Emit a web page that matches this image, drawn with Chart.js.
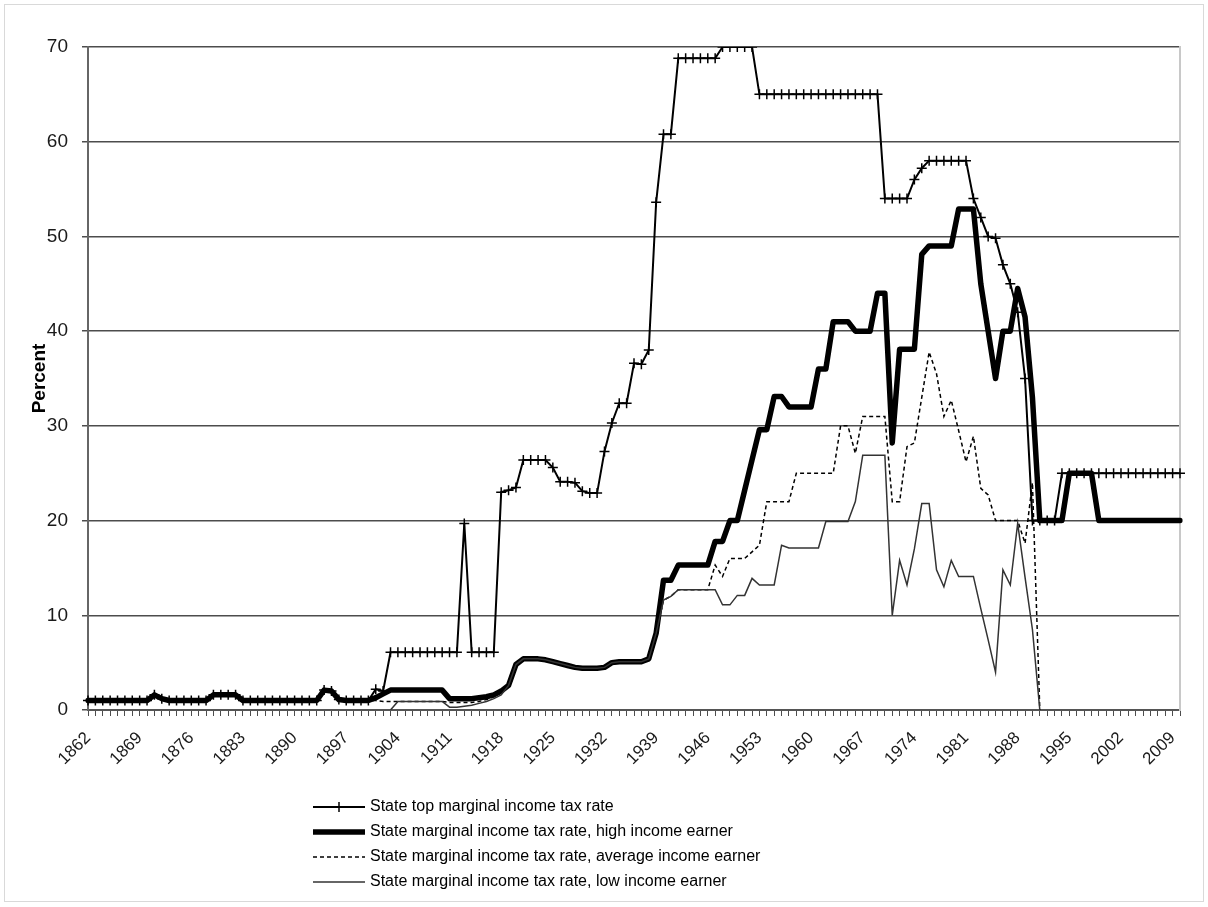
<!DOCTYPE html>
<html>
<head>
<meta charset="utf-8">
<title>State marginal income tax rates</title>
<script src="https://cdn.jsdelivr.net/npm/chart.js@4.4.1/dist/chart.umd.min.js"></script>
<style>
  body { margin: 0; background: #fff; }
  #caixa { position: relative; width: 1208px; height: 907px; }
  #moldura { position: absolute; left: 4px; top: 4px; width: 1198px; height: 896px; border: 1px solid #d9d9d9; pointer-events: none; }
</style>
</head>
<body>
<div id="caixa">
  <canvas id="grafico" width="1208" height="907"></canvas>
  <div id="moldura"></div>
</div>
<script>
// anos 1862 - 2010
let anos = [];
for (let a = 1862; a <= 2010; a++) {
  anos.push(String(a));
}

let ticksY = [0, 10, 20, 30, 40, 50, 60, 70];

let nomesSeries = [
  "State top marginal income tax rate",
  "State marginal income tax rate, high income earner",
  "State marginal income tax rate, average income earner",
  "State marginal income tax rate, low income earner"
];

let taxaTopo = [
  1, 1, 1, 1, 1, 1, 1, 1, 1, 1.6, 1.2, 1, 1, 1, 1, 1, 1, 1.6, 1.6, 1.6,
  1.6, 1, 1, 1, 1, 1, 1, 1, 1, 1, 1, 1, 2.1, 2.0, 1.1, 1, 1, 1, 1, 2.2,
  2.0, 6.1, 6.1, 6.1, 6.1, 6.1, 6.1, 6.1, 6.1, 6.1, 6.1, 19.7, 6.1, 6.1, 6.1, 6.1, 23, 23.2, 23.5, 26.4,
  26.4, 26.4, 26.4, 25.6, 24.1, 24.1, 24.0, 23.1, 22.9, 22.9, 27.3, 30.3, 32.4, 32.4, 36.6, 36.5, 38, 53.6, 60.8, 60.8,
  68.8, 68.8, 68.8, 68.8, 68.8, 68.8, 70, 70, 70, 70, 70, 65, 65, 65, 65, 65, 65, 65, 65, 65,
  65, 65, 65, 65, 65, 65, 65, 65, 54, 54, 54, 54, 56, 57.2, 58, 58, 58, 58, 58, 58,
  54, 52, 50, 49.8, 47, 45, 42, 35, 20, 20, 20, 20, 25, 25, 25, 25, 25, 25, 25, 25,
  25, 25, 25, 25, 25, 25, 25, 25, 25
];

let taxaAlta = [
  1, 1, 1, 1, 1, 1, 1, 1, 1, 1.6, 1.2, 1, 1, 1, 1, 1, 1, 1.6, 1.6, 1.6,
  1.6, 1, 1, 1, 1, 1, 1, 1, 1, 1, 1, 1, 2.1, 2.0, 1.1, 1, 1, 1, 1, 1.3,
  1.7, 2.1, 2.1, 2.1, 2.1, 2.1, 2.1, 2.1, 2.1, 1.2, 1.2, 1.2, 1.2, 1.3, 1.4, 1.6, 2.0, 2.6, 4.8, 5.4,
  5.4, 5.4, 5.3, 5.1, 4.9, 4.7, 4.5, 4.4, 4.4, 4.4, 4.5, 5.0, 5.1, 5.1, 5.1, 5.1, 5.4, 8.1, 13.7, 13.7,
  15.3, 15.3, 15.3, 15.3, 15.3, 17.8, 17.8, 20, 20, 23.2, 26.4, 29.6, 29.6, 33.1, 33.1, 32, 32, 32, 32, 36,
  36, 41, 41, 41, 40, 40, 40, 44, 44, 28.2, 38.1, 38.1, 38.1, 48.1, 49, 49, 49, 49, 52.9, 52.9,
  52.9, 45, 40, 35, 40, 40, 44.5, 41.5, 33, 20, 20, 20, 20, 25, 25, 25, 25, 20, 20, 20,
  20, 20, 20, 20, 20, 20, 20, 20, 20
];

let taxaMedia = [
  1, 1, 1, 1, 1, 1, 1, 1, 1, 1.6, 1.2, 1, 1, 1, 1, 1, 1, 1.6, 1.6, 1.6,
  1.6, 1, 1, 1, 1, 1, 1, 1, 1, 1, 1, 1, 2.1, 2.0, 1.1, 1, 1, 1, 1, 1.0,
  0.9, 0.9, 0.9, 0.9, 0.9, 0.9, 0.9, 0.9, 0.9, 0.8, 0.8, 0.8, 0.8, 0.9, 1.1, 1.4, 1.8, 2.6, 4.8, 5.4,
  5.4, 5.4, 5.3, 5.1, 4.9, 4.7, 4.5, 4.4, 4.4, 4.4, 4.5, 5.0, 5.1, 5.1, 5.1, 5.1, 5.4, 8.1, 11.6, 12.0,
  12.7, 12.7, 12.7, 12.7, 12.7, 15.3, 14.1, 16, 16, 16, 16.7, 17.4, 22, 22, 22, 22, 25, 25, 25, 25,
  25, 25, 30, 30, 27.1, 31, 31, 31, 31, 22, 22, 27.8, 28.2, 33, 37.8, 35.5, 31, 32.7, 29.5, 26.2,
  28.9, 23.4, 22.7, 20, 20, 20, 20, 17.6, 24, 0, null, null, null, null, null, null, null, null, null, null,
  null, null, null, null, null, null, null, null, null
];

let taxaBaixa = [
  null, null, null, null, null, null, null, null, null, null, null, null, null, null, null, null, null, null, null, null,
  null, null, null, null, null, null, null, null, null, null, null, null, null, null, null, null, null, null, null, null,
  null, 0, 0.9, 0.9, 0.9, 0.9, 0.9, 0.9, 0.9, 0.3, 0.3, 0.4, 0.5, 0.7, 0.9, 1.2, 1.6, 2.6, 4.8, 5.4,
  5.4, 5.4, 5.3, 5.1, 4.9, 4.7, 4.5, 4.4, 4.4, 4.4, 4.5, 5.0, 5.1, 5.1, 5.1, 5.1, 5.4, 8.1, 11.6, 12.0,
  12.7, 12.7, 12.7, 12.7, 12.7, 12.7, 11.1, 11.1, 12.1, 12.1, 13.9, 13.2, 13.2, 13.2, 17.4, 17.1, 17.1, 17.1, 17.1, 17.1,
  19.9, 19.9, 19.9, 19.9, 22, 26.9, 26.9, 26.9, 26.9, 10, 15.8, 13.2, 17, 21.8, 21.8, 14.8, 13, 15.8, 14.1, 14.1,
  14.1, 10.7, 7.4, 4, 14.8, 13.2, 19.7, 14, 8.5, 0, null, null, null, null, null, null, null, null, null, null,
  null, null, null, null, null, null, null, null, null
];

const fonte = "'Liberation Sans', Arial, sans-serif";

// legenda em coluna, como no original
const legendaVertical = {
  id: "legendaVertical",
  afterDraw(chart) {
    const ctx = chart.ctx;
    const xIni = 313;
    const xFim = 365;
    const linhas = [807, 832, 857, 882];
    ctx.save();
    ctx.font = "16px " + fonte;
    ctx.textBaseline = "middle";
    ctx.fillStyle = "#000";
    chart.data.datasets.forEach(function (ds, i) {
      const y = linhas[i];
      ctx.beginPath();
      ctx.strokeStyle = ds.borderColor;
      ctx.lineWidth = ds.borderWidth;
      ctx.setLineDash(ds.borderDash || []);
      ctx.lineCap = "butt";
      ctx.moveTo(xIni, y);
      ctx.lineTo(xFim, y);
      ctx.stroke();
      ctx.setLineDash([]);
      if (ds.pointStyle == "cross") {
        ctx.lineWidth = 1.5;
        ctx.beginPath();
        ctx.moveTo((xIni + xFim) / 2, y - 5);
        ctx.lineTo((xIni + xFim) / 2, y + 5);
        ctx.stroke();
      }
      ctx.fillText(ds.label, xFim + 5, y);
    });
    ctx.restore();
  }
};

const ctx = document.getElementById("grafico");

new Chart(ctx, {
  type: "line",
  data: {
    labels: anos,
    datasets: [
      {
        label: nomesSeries[0],
        data: taxaTopo,
        borderColor: "#000",
        borderWidth: 2,
        pointStyle: "cross",
        pointRadius: 5,
        pointBorderWidth: 1.5,
        pointBorderColor: "#000",
        order: 4
      },
      {
        label: nomesSeries[1],
        data: taxaAlta,
        borderColor: "#000",
        borderWidth: 5.5,
        borderJoinStyle: "round",
        borderCapStyle: "round",
        pointRadius: 0,
        order: 3
      },
      {
        label: nomesSeries[2],
        data: taxaMedia,
        borderColor: "#000",
        borderWidth: 1.5,
        borderDash: [4, 3],
        pointRadius: 0,
        order: 2
      },
      {
        label: nomesSeries[3],
        data: taxaBaixa,
        borderColor: "#333",
        borderWidth: 1.5,
        pointRadius: 0,
        order: 1
      }
    ]
  },
  options: {
    responsive: false,
    animation: false,
    devicePixelRatio: 1,
    layout: {
      padding: { top: 47, right: 28, bottom: 0, left: 0 }
    },
    elements: {
      line: { tension: 0 }
    },
    plugins: {
      legend: { display: false },
      tooltip: { enabled: false }
    },
    scales: {
      x: {
        offset: false,
        afterFit: function (escala) { escala.height = 197; },
        grid: {
          drawOnChartArea: false,
          drawTicks: true,
          tickLength: 6,
          color: "#4d4d4d",
          lineWidth: 1
        },
        border: { display: true, color: "#555", width: 2 },
        ticks: {
          autoSkip: false,
          maxRotation: 45,
          minRotation: 45,
          padding: 12,
          color: "#1a1a1a",
          font: { family: fonte, size: 17 },
          callback: function (valor, indice) {
            return indice % 7 == 0 ? anos[indice] : "";
          }
        }
      },
      y: {
        min: 0,
        max: 70,
        afterFit: function (escala) { escala.width = 88; },
        afterBuildTicks: function (escala) {
          escala.ticks = ticksY.map(function (v) { return { value: v }; });
        },
        grid: { color: "#4d4d4d", lineWidth: 1.5, tickLength: 6 },
        border: { display: true, color: "#666", width: 2 },
        ticks: {
          color: "#1a1a1a",
          padding: 14,
          font: { family: fonte, size: 19 }
        },
        title: {
          display: true,
          text: "Percent",
          color: "#000",
          padding: { top: 28, bottom: 0 },
          font: { family: fonte, size: 19, weight: "bold" }
        }
      },
      y2: {
        position: "right",
        min: 0,
        max: 70,
        afterFit: function (escala) { escala.width = 0; },
        grid: { display: false },
        ticks: { display: false },
        border: { display: true, color: "#c8c8c8", width: 2 }
      }
    }
  },
  plugins: [legendaVertical]
});
</script>
</body>
</html>
